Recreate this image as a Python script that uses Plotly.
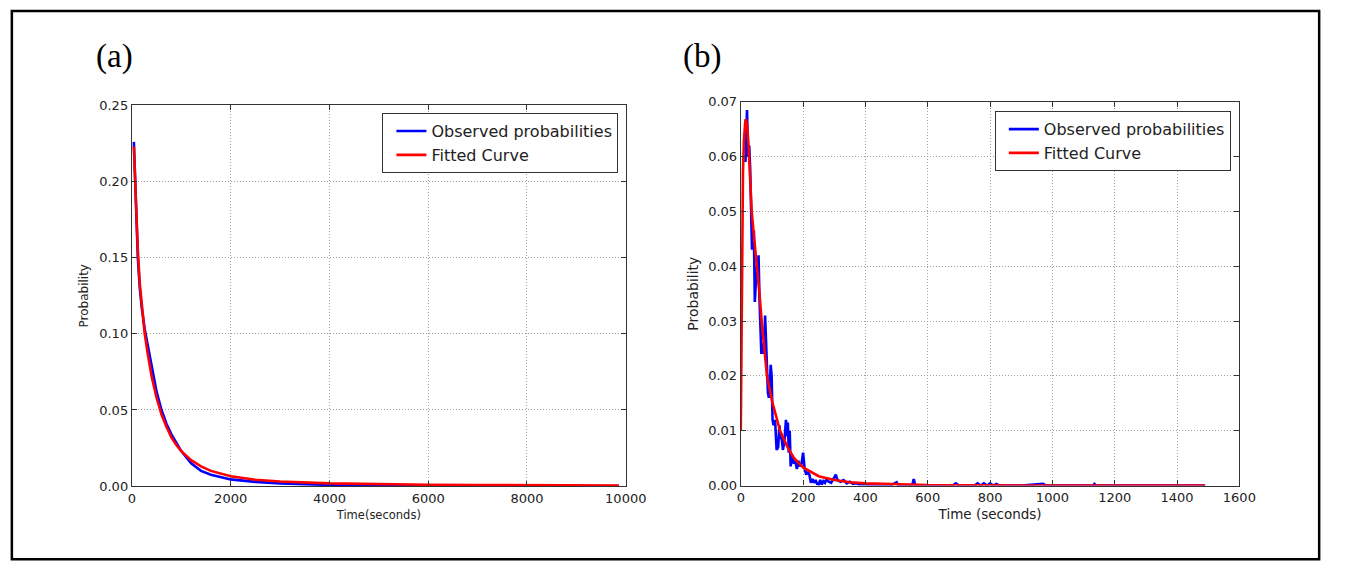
import plotly.graph_objects as go

# ---------------- Panel (a) data ----------------
a_obs_t = [40, 80, 120, 160, 200, 260, 300, 400, 500, 600, 700, 800, 900, 1000,
           1200, 1400, 1600, 1800, 2000, 2500, 3000, 4000, 5000, 6000, 7000, 8000, 9000, 9860]
a_obs_p = [0.226, 0.180, 0.150, 0.130, 0.117, 0.103, 0.096, 0.077, 0.062, 0.050, 0.041,
           0.034, 0.028, 0.023, 0.015, 0.010, 0.0075, 0.0058, 0.0044, 0.0028, 0.0018,
           0.0008, 0.0004, 0.0002, 0.0001, 0.0001, 0.00005, 0.0]
a_fit_t = [40, 80, 120, 160, 200, 260, 320, 400, 500, 600, 700, 800, 900, 1000, 1200,
           1400, 1600, 1800, 2000, 2500, 3000, 4000, 5000, 6000, 7000, 8000, 9000, 9860]
a_fit_p = [0.223, 0.185, 0.155, 0.133, 0.118, 0.100, 0.087, 0.072, 0.058, 0.047, 0.039,
           0.032, 0.027, 0.023, 0.017, 0.013, 0.010, 0.008, 0.0065, 0.0042, 0.0030,
           0.0018, 0.0012, 0.0009, 0.0007, 0.0006, 0.0005, 0.0004]

# ---------------- Panel (b) data ----------------
b_obs_t = [15, 17, 20, 23, 27, 30, 33, 36, 39, 42, 45, 48, 51, 54, 57, 60, 63, 66, 70, 74,
           78, 81, 84, 87, 90, 93, 96, 99, 102, 105, 110, 115, 120, 124, 127, 130, 135, 140,
           145, 148, 151, 154, 157, 160, 165, 170, 175, 180, 185, 190, 195, 200, 205, 210,
           215, 220, 225, 230, 235, 240, 245, 250, 255, 260, 265, 270, 275, 280, 290, 300,
           305, 310, 320, 330, 340, 350, 360, 370, 380, 400, 420, 450, 480, 500, 505, 550,
           555, 560, 600, 680, 690, 700, 750, 760, 770, 780, 790, 800, 810, 820, 830, 900,
           970, 980, 1130, 1135, 1140, 1490]
b_obs_p = [0.059, 0.066, 0.0685, 0.060, 0.062, 0.058, 0.050, 0.043, 0.046, 0.0465, 0.0335,
           0.038, 0.040, 0.038, 0.042, 0.034, 0.028, 0.024, 0.026, 0.024, 0.031, 0.025,
           0.019, 0.017, 0.016, 0.018, 0.022, 0.020, 0.012, 0.011, 0.012, 0.0065, 0.007,
           0.011, 0.0085, 0.0095, 0.0065, 0.008, 0.012, 0.009, 0.0115, 0.006, 0.010,
           0.0035, 0.0055, 0.004, 0.0045, 0.003, 0.0045, 0.0035, 0.004, 0.006, 0.003,
           0.002, 0.0025, 0.002, 0.0005, 0.0012, 0.0005, 0.001, 0.0003, 0.0002, 0.001,
           0.0002, 0.0008, 0.0005, 0.0012, 0.0008, 0.0005, 0.0015, 0.002, 0.001, 0.0007,
           0.001, 0.0004, 0.0007, 0.0003, 0.0004, 0.0002, 0.0002, 0.0001, 0.0001, 0.0,
           0.0006, 0.0, 0.0, 0.0012, 0.0, 0.0, 0.0, 0.0004, 0.0, 0.0, 0.0004, 0.0, 0.0004,
           0.0, 0.0004, 0.0, 0.0003, 0.0, 0.0, 0.0003, 0.0, 0.0, 0.0003, 0.0, 0.0]
b_fit_t = [0, 2, 4, 7, 10, 15, 20, 25, 30, 35, 43, 52, 60, 67, 75, 84, 100, 126, 150, 171,
           200, 250, 300, 350, 400, 500, 600, 800, 1000, 1490]
b_fit_p = [0.010, 0.030, 0.045, 0.057, 0.063, 0.0668, 0.066, 0.062, 0.056, 0.050, 0.045,
           0.040, 0.035, 0.030, 0.025, 0.020, 0.0155, 0.010, 0.0070, 0.0050, 0.0033,
           0.0017, 0.0010, 0.0006, 0.0004, 0.00018, 0.00008, 0.00002, 0.0, 0.0]

W, H = 1349, 573

def px_x(x):
    return x / W

def px_y(y):
    return 1 - y / H

BLUE = "#0000ff"
RED = "#ff0000"
LW = 2.6

fig = go.Figure()
fig.add_trace(go.Scatter(x=a_obs_t, y=a_obs_p, mode="lines", name="Observed probabilities",
                         line=dict(color=BLUE, width=LW), xaxis="x", yaxis="y", legend="legend"))
fig.add_trace(go.Scatter(x=a_fit_t, y=a_fit_p, mode="lines", name="Fitted Curve",
                         line=dict(color=RED, width=LW), xaxis="x", yaxis="y", legend="legend"))
fig.add_trace(go.Scatter(x=b_obs_t, y=b_obs_p, mode="lines", name="Observed probabilities",
                         line=dict(color=BLUE, width=LW), xaxis="x2", yaxis="y2", legend="legend2"))
fig.add_trace(go.Scatter(x=b_fit_t, y=b_fit_p, mode="lines", name="Fitted Curve",
                         line=dict(color=RED, width=LW), xaxis="x2", yaxis="y2", legend="legend2"))

tick_font = dict(family="DejaVu Sans", size=13, color="#222222")
axis_common = dict(showline=True, linecolor="#333333", linewidth=1.2, mirror="ticks",
                   ticks="inside", ticklen=5, tickcolor="#333333", showgrid=True,
                   gridcolor="#a0a0a0", griddash="1px,2px", gridwidth=1, zeroline=False,
                   tickfont=tick_font)

fig.update_layout(
    width=W, height=H,
    margin=dict(l=0, r=0, t=0, b=0),
    paper_bgcolor="white", plot_bgcolor="white",
    xaxis=dict(domain=[px_x(130.3), px_x(633.5)], range=[0, 10000], tickvals=[0, 2000, 4000, 6000, 8000, 10000],
               tickformat="d", anchor="y",
               title=dict(text="Time(seconds)", font=dict(family="DejaVu Sans", size=11.5, color="#222"), standoff=6),
               **axis_common),
    yaxis=dict(domain=[px_y(492), px_y(101)], range=[0, 0.25], tickvals=[0, 0.05, 0.10, 0.15, 0.20, 0.25],
               tickformat=".2f", anchor="x",
               title=dict(text="Probability", font=dict(family="DejaVu Sans", size=12, color="#222"), standoff=8),
               **axis_common),
    xaxis2=dict(domain=[px_x(750.7), px_x(1258.7)], range=[0, 1600], tickvals=list(range(0, 1601, 200)),
                tickformat="d", anchor="y2",
                title=dict(text="Time (seconds)", font=dict(family="DejaVu Sans", size=13.5, color="#222"), standoff=5),
                **axis_common),
    yaxis2=dict(domain=[px_y(491.4), px_y(97.3)], range=[0, 0.07], tickvals=[0, 0.01, 0.02, 0.03, 0.04, 0.05, 0.06, 0.07],
                tickformat=".2f", anchor="x2",
                title=dict(text="Probability", font=dict(family="DejaVu Sans", size=14, color="#222"), standoff=6),
                **axis_common),
    legend=dict(x=px_x(626), y=px_y(109), xanchor="right", yanchor="top",
                bgcolor="white", bordercolor="#333333", borderwidth=1, indentation=8,
                font=dict(family="DejaVu Sans", size=16, color="#222"), tracegroupgap=0),
    legend2=dict(x=px_x(1250), y=px_y(107), xanchor="right", yanchor="top",
                 bgcolor="white", bordercolor="#333333", borderwidth=1, indentation=8,
                 font=dict(family="DejaVu Sans", size=16, color="#222"), tracegroupgap=0),
    annotations=[
        dict(text="(a)", x=px_x(92), y=px_y(51), xref="paper", yref="paper", xanchor="left",
             yanchor="middle", showarrow=False, font=dict(family="Liberation Serif", size=33, color="black")),
        dict(text="(b)", x=px_x(690), y=px_y(51), xref="paper", yref="paper", xanchor="left",
             yanchor="middle", showarrow=False, font=dict(family="Liberation Serif", size=33, color="black")),
    ],
    shapes=[
        dict(type="rect", xref="paper", yref="paper", x0=px_x(8), x1=px_x(1340), y0=px_y(567), y1=px_y(4),
             line=dict(color="black", width=2.5), fillcolor="rgba(0,0,0,0)", layer="above"),
    ],
)

fig.write_html("out.html")
